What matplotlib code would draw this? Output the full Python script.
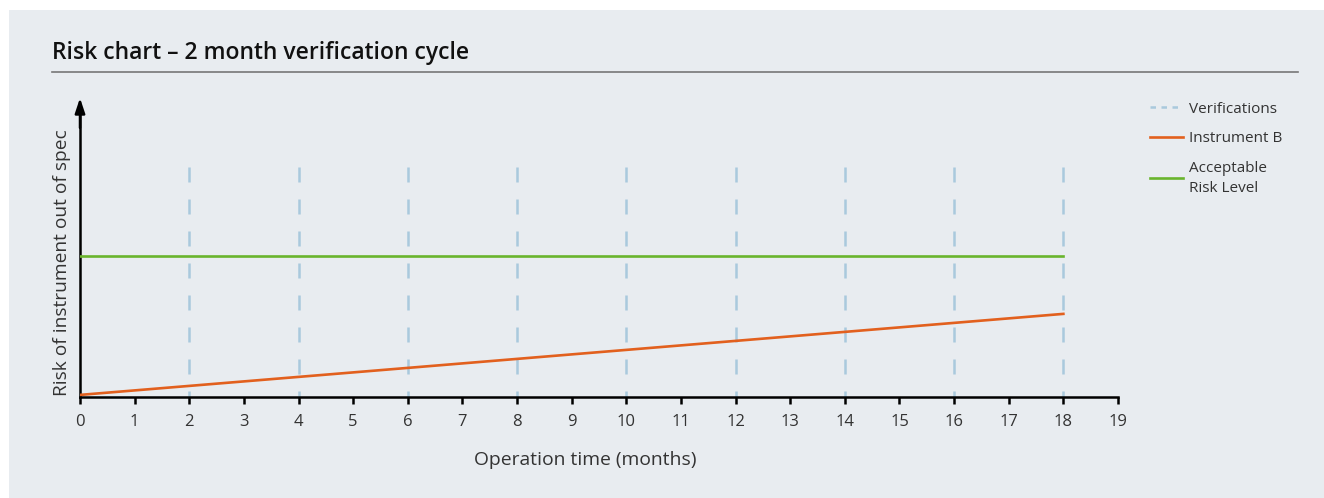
import matplotlib.pyplot as plt
from matplotlib.lines import Line2D
from matplotlib.patches import Rectangle

plt.rcParams['font.family'] = ['Open Sans', 'DejaVu Sans']

# Daten (Risiko normiert auf 0..1)
months = list(range(0, 20))
verification_months = [2, 4, 6, 8, 10, 12, 14, 16, 18]
verification_top = 0.77
instrument_b_x = [0, 18]
instrument_b_y = [0.007, 0.278]
acceptable_x = [0, 18]
acceptable_y = [0.47, 0.47]

bg = '#e8ecf0'
blue = '#a9c9dd'
orange = '#e2601e'
green = '#69b42c'

fig = plt.figure(figsize=(13.24, 4.98), dpi=100)
fig.patches.append(Rectangle((9 / 1324, 0), 1, 1 - 10 / 498, transform=fig.transFigure,
                             facecolor=bg, edgecolor='none', zorder=-10))

ax = fig.add_axes([80 / 1324, 1 - 397 / 498, (1118 - 80) / 1324, (397 - 98) / 498])
ax.set_facecolor('none')

for m in verification_months:
    ax.plot([m, m], [verification_top, 0], color=blue, lw=1.8, dashes=(6, 6.8), zorder=1)
ax.plot(instrument_b_x, instrument_b_y, color=orange, lw=1.9, zorder=3)
ax.plot(acceptable_x, acceptable_y, color=green, lw=1.9, zorder=3)

ax.set_xlim(0, 19)
ax.set_ylim(0, 1)
ax.set_xticks(months)
ax.set_yticks([])
for s in ['top', 'right']:
    ax.spines[s].set_visible(False)
ax.spines['left'].set_linewidth(1.8)
ax.spines['bottom'].set_linewidth(1.8)
ax.spines['left'].set_bounds(0, 0.95)
ax.annotate('', xy=(0, 1.0), xycoords='axes fraction', xytext=(0, 0.9),
            arrowprops=dict(arrowstyle='-|>,head_length=0.9,head_width=0.3',
                            color='black', lw=1.8, shrinkA=0, shrinkB=0))
ax.tick_params(axis='x', direction='out', length=5, width=1.8, labelsize=12,
               labelcolor='#333333', pad=7)

ax.set_xlabel('Operation time (months)', fontsize=13.9, color='#333333')
ax.xaxis.set_label_coords((585 - 80) / 1038, -0.18)
ax.set_ylabel('Risk of instrument out of spec', fontsize=13.8, color='#333333')
ax.yaxis.set_label_coords(-0.009, 0.45)

fig.text(52 / 1324, 1 - 53 / 498, 'Risk chart – 2 month verification cycle',
         fontsize=16.5, fontweight='semibold', color='#111111', va='center', ha='left')
fig.add_artist(Line2D([52 / 1324, 1298 / 1324], [1 - 72 / 498, 1 - 72 / 498],
                      transform=fig.transFigure, color='#777777', lw=1.2))

handles = [
    Line2D([], [], color=blue, lw=1.8, dashes=(2.2, 2.2)),
    Line2D([], [], color=orange, lw=1.9),
    Line2D([], [], color=green, lw=1.9),
]
labels = ['Verifications', 'Instrument B', 'Acceptable\nRisk Level']
leg = ax.legend(handles, labels, loc='upper left', bbox_to_anchor=(1136 / 1324, 1 - 88 / 498),
                bbox_transform=fig.transFigure, frameon=False, fontsize=11,
                handlelength=2.2, handletextpad=0.35, labelspacing=0.95)
for t in leg.get_texts():
    t.set_color('#333333')
    t.set_linespacing(1.45)

fig.savefig('out.png', dpi=100)
